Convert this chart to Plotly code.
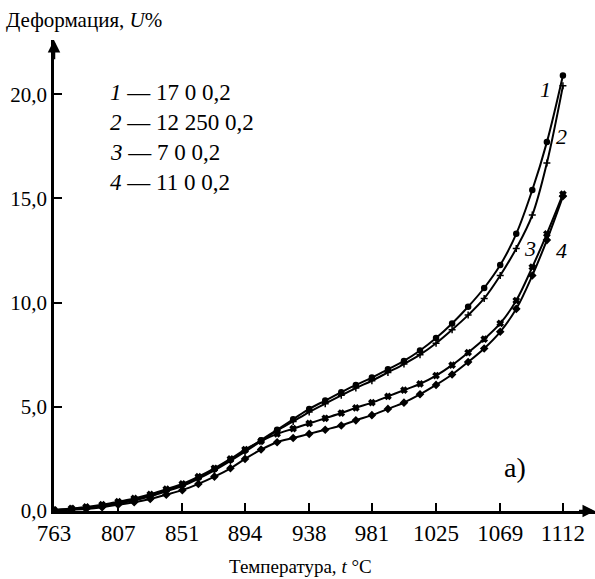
import plotly.graph_objects as go

temps = [763, 775, 785, 796, 807, 818, 829, 840, 851, 862, 873, 884, 894, 905, 916, 927,
         938, 949, 960, 970, 981, 992, 1003, 1014, 1025, 1036, 1047, 1058, 1069, 1080, 1091, 1101, 1112]

u1 = [0.05, 0.1, 0.15, 0.25, 0.4, 0.55, 0.75, 1.0, 1.25, 1.6, 2.0, 2.45, 2.9, 3.4, 3.9, 4.4,
      4.9, 5.3, 5.7, 6.05, 6.4, 6.8, 7.2, 7.7, 8.3, 9.0, 9.8, 10.7, 11.8, 13.3, 15.4, 17.7, 20.9]
u2 = [0.03, 0.08, 0.12, 0.22, 0.35, 0.5, 0.7, 0.95, 1.2, 1.55, 1.95, 2.4, 2.85, 3.35, 3.85, 4.3,
      4.75, 5.15, 5.55, 5.9, 6.25, 6.65, 7.05, 7.5, 8.05, 8.7, 9.4, 10.2, 11.3, 12.6, 14.2, 16.7, 20.4]
u3 = [0.05, 0.12, 0.2, 0.3, 0.45, 0.6, 0.8, 1.05, 1.3, 1.65, 2.05, 2.5, 2.95, 3.35, 3.7, 3.95,
      4.2, 4.45, 4.7, 4.95, 5.2, 5.5, 5.8, 6.1, 6.5, 7.0, 7.6, 8.25, 9.0, 10.1, 11.7, 13.3, 15.2]
u4 = [0.02, 0.06, 0.1, 0.18, 0.3, 0.42, 0.58, 0.78, 1.0, 1.3, 1.65, 2.05, 2.5, 2.95, 3.3, 3.5,
      3.7, 3.9, 4.1, 4.35, 4.6, 4.9, 5.2, 5.6, 6.05, 6.55, 7.15, 7.8, 8.6, 9.7, 11.3, 13.0, 15.1]

x_ticks = [763, 807, 851, 894, 938, 981, 1025, 1069, 1112]
x_tick_text = ["763", "807", "851", "894", "938", "981", "1025", "1069", "1112"]
y_ticks = [0, 5, 10, 15, 20]
y_tick_text = ["0,0", "5,0", "10,0", "15,0", "20,0"]

legend_lines = ["<i>1</i> — 17 0 0,2", "<i>2</i> — 12 250 0,2", "<i>3</i> — 7 0 0,2", "<i>4</i> — 11 0 0,2"]
curve_labels = ["1", "2", "3", "4"]

FONT = "Liberation Serif, Times New Roman, DejaVu Serif, serif"

series = [(u1, "circle"), (u2, "cross-thin"), (u3, "x"), (u4, "diamond")]

fig = go.Figure()
for vals, sym in series:
    fig.add_trace(go.Scatter(
        x=temps, y=vals, mode="lines+markers",
        line=dict(color="black", width=2, shape="spline"),
        marker=dict(symbol=sym, size=5, color="black",
                    line=dict(color="black", width=1.5)),
        showlegend=False,
    ))

XMAX = 1134
YMAX = 22.6

fig.update_layout(
    width=595, height=579,
    margin=dict(l=54, r=0, t=40, b=68),
    paper_bgcolor="white", plot_bgcolor="white",
    font=dict(family=FONT, color="black", size=21),
    xaxis=dict(range=[763, XMAX], showgrid=False, zeroline=False,
               showline=True, linecolor="black", linewidth=2.5,
               tickmode="array", tickvals=x_ticks, ticktext=x_tick_text,
               ticks="inside", ticklen=8, tickwidth=2, tickcolor="black",
               tickfont=dict(size=23, family=FONT)),
    yaxis=dict(range=[0, YMAX], showgrid=False, zeroline=False,
               showline=True, linecolor="black", linewidth=2.5,
               tickmode="array", tickvals=y_ticks, ticktext=y_tick_text,
               ticks="inside", ticklen=8, tickwidth=2, tickcolor="black",
               tickfont=dict(size=21, family=FONT)),
)

anns = []
# axis arrows
anns.append(dict(x=XMAX, y=0, ax=XMAX - 12, ay=0, xref="x", yref="y", axref="x", ayref="y",
                 text="", showarrow=True, arrowhead=2, arrowsize=1, arrowwidth=2.5, arrowcolor="black"))
anns.append(dict(x=763, y=YMAX, ax=763, ay=YMAX - 1, xref="x", yref="y", axref="x", ayref="y",
                 text="", showarrow=True, arrowhead=2, arrowsize=1, arrowwidth=2.5, arrowcolor="black"))
# axis titles
anns.append(dict(x=-0.092, y=1.042, xref="paper", yref="paper", xanchor="left", yanchor="middle",
                 text="Деформация, <i>U</i>%", showarrow=False, font=dict(size=21, family=FONT)))
anns.append(dict(x=0.455, y=-0.117, xref="paper", yref="paper", xanchor="center", yanchor="middle",
                 text="Температура, <i>t</i> °C", showarrow=False, font=dict(size=19, family=FONT)))
# panel label
anns.append(dict(x=0.852, y=0.093, xref="paper", yref="paper", xanchor="center", yanchor="middle",
                 text="а)", showarrow=False, font=dict(size=28, family=FONT)))
# legend text
leg_y = [0.8875, 0.8238, 0.7622, 0.6964]
for t, yy in zip(legend_lines, leg_y):
    anns.append(dict(x=0.0998, y=yy, xref="paper", yref="paper", xanchor="left", yanchor="middle",
                     text=t, showarrow=False, font=dict(size=23, family=FONT)))
# curve labels
lab_pos = [(0.908, 0.895), (0.939, 0.795), (0.880, 0.558), (0.939, 0.553)]
for t, (xx, yy) in zip(curve_labels, lab_pos):
    anns.append(dict(x=xx, y=yy, xref="paper", yref="paper", xanchor="center", yanchor="middle",
                     text="<i>" + t + "</i>", showarrow=False, font=dict(size=22, family=FONT)))

fig.update_layout(annotations=anns)
fig.write_html("out.html")
